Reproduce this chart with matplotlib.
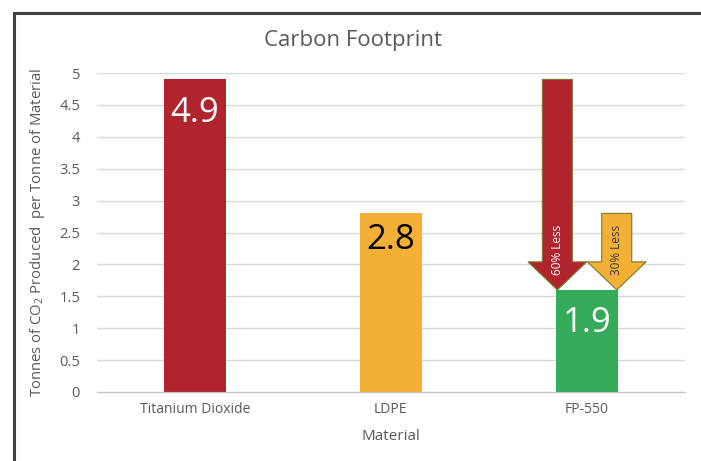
import numpy as np
import matplotlib
matplotlib.use('Agg')
import matplotlib.pyplot as plt
from matplotlib.patches import Rectangle

plt.rcParams['font.family'] = ['Open Sans', 'DejaVu Sans']
plt.rcParams['mathtext.fontset'] = 'custom'
plt.rcParams['mathtext.rm'] = 'Open Sans'

# data
materials = ['Titanium Dioxide', 'LDPE', 'FP-550']
values = [4.9, 2.8, 1.6]
value_labels = ['4.9', '2.8', '1.9']
arrow_labels = ['60% Less', '30% Less']
yticks = [0, 0.5, 1, 1.5, 2, 2.5, 3, 3.5, 4, 4.5, 5]
ytick_labels = ['0', '0.5', '1', '1.5', '2', '2.5', '3', '3.5', '4', '4.5', '5']

colors = ['#B0242E', '#F2B134', '#35AA58']
grey = '#595959'

fig = plt.figure(figsize=(7.01, 4.61), dpi=100)
ax = fig.add_axes([0.138, 0.1497, 0.839, 0.6919])

x = np.arange(len(materials))
bw = 0.315
ax.bar(x, values, width=bw, color=colors, zorder=2)

ax.set_xlim(-0.5, 2.5)
ax.set_ylim(0, 5)
ax.set_yticks(yticks)
ax.set_yticklabels(ytick_labels)
ax.set_xticks(x)
ax.set_xticklabels(materials)
ax.tick_params(axis='y', length=0, pad=12, labelsize=10.5, labelcolor=grey)
ax.tick_params(axis='x', length=0, pad=7, labelsize=10, labelcolor=grey)
ax.grid(axis='y', color='#d9d9d9', linewidth=1, zorder=0)
for s in ['top', 'right', 'left']:
    ax.spines[s].set_visible(False)
ax.spines['bottom'].set_color('#bfbfbf')
ax.spines['bottom'].set_zorder(3)

ax.set_xlabel('Material', fontsize=11, color=grey, labelpad=9)
ax.set_ylabel(r'Tonnes of CO$_2$ Produced  per Tonne of Material',
              fontsize=10.7, color=grey, labelpad=9)
fig.text(0.503, 0.913, 'Carbon Footprint', ha='center', va='center',
         fontsize=16, color=grey)

# value labels inside the bars
label_colors = ['white', 'black', 'white']
label_pos = [values[0] - 0.52, values[1] - 0.42, values[2] - 0.52]
for i in range(3):
    ax.text(x[i], label_pos[i], value_labels[i], ha='center', va='center',
            fontsize=25, color=label_colors[i], zorder=4)

# reduction arrows onto FP-550
ax_x = [x[2] - bw / 2 + 0.007, x[2] + bw / 2 - 0.005]
starts = [values[0], values[1]]
text_colors = ['white', '#3a3a3a']
for i in range(2):
    ax.arrow(ax_x[i], starts[i], 0, values[2] - starts[i], width=0.153,
             head_width=0.30, head_length=0.44, length_includes_head=True,
             facecolor=colors[i], edgecolor='#7a7a30', linewidth=0.8, zorder=3)
    ax.text(ax_x[i], 2.22, arrow_labels[i], rotation=90, ha='center',
            va='center', fontsize=8.5, color=text_colors[i], zorder=4)

# outer frame (cut off on the right and bottom)
fig.patches.append(Rectangle((14 / 701, -0.1), 1.2, 1 - 13 / 461 + 0.1,
                             transform=fig.transFigure, fill=False,
                             edgecolor='#404040', linewidth=2.2))

fig.savefig('out.png', dpi=100)
